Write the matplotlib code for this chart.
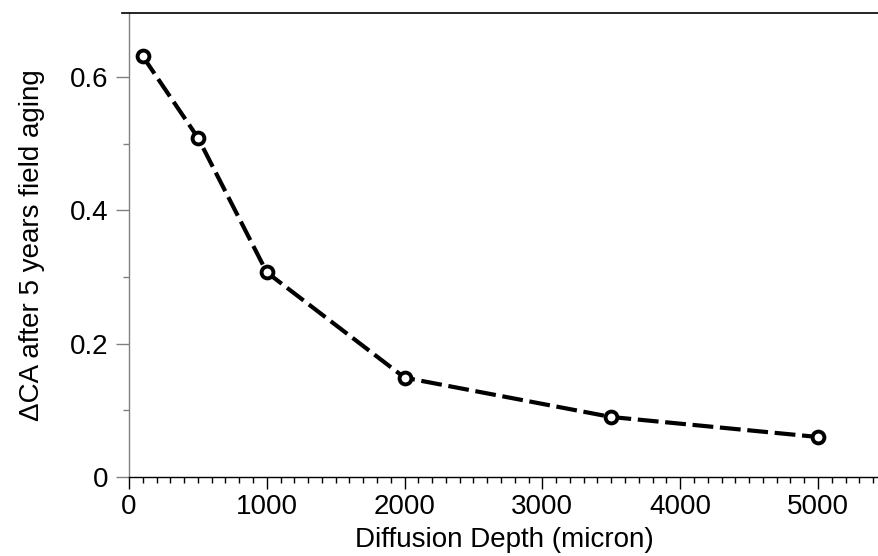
import matplotlib
matplotlib.use('Agg')
import matplotlib.pyplot as plt
from matplotlib.ticker import MultipleLocator
from matplotlib.lines import Line2D

depth = [100, 500, 1000, 2000, 3500, 5000]
delta_ca = [0.631, 0.509, 0.307, 0.149, 0.090, 0.060]
x_label = 'Diffusion Depth (micron)'
y_label = '\u0394CA after 5 years field aging'

plt.rcParams['font.family'] = ['Liberation Sans', 'DejaVu Sans']

fig = plt.figure(figsize=(8.79, 5.56), dpi=100)
ax = fig.add_axes([129 / 879, 79 / 556, 750 / 879, 464 / 556])

ax.plot(depth, delta_ca, color='black', lw=3.0, dashes=(5.0, 1.6),
        dash_capstyle='butt', marker='o', ms=8.5, mew=2.8,
        mfc='white', mec='black', zorder=3)

ax.set_xlim(0, 5443)
ax.set_ylim(0, 0.696)

ax.xaxis.set_major_locator(MultipleLocator(1000))
ax.xaxis.set_minor_locator(MultipleLocator(100))
ax.yaxis.set_major_locator(MultipleLocator(0.2))
ax.yaxis.set_minor_locator(MultipleLocator(0.1))
ax.yaxis.set_major_formatter(plt.FuncFormatter(lambda v, p: '0' if v == 0 else f'{v:.1f}'))

ax.spines['right'].set_visible(False)
ax.spines['top'].set_visible(False)
ax.spines['left'].set_color('#808080')
ax.spines['left'].set_linewidth(1.0)
ax.spines['bottom'].set_linewidth(1.0)

ax.tick_params(axis='x', which='major', length=8.6, width=1.0, pad=3.5, labelsize=20, color='black')
ax.tick_params(axis='x', which='minor', length=4.3, width=1.0, color='black')
ax.tick_params(axis='y', which='major', length=9.4, width=1.0, pad=5.5, labelsize=20, color='#808080')
ax.tick_params(axis='y', which='minor', length=4.3, width=1.0, color='#808080')

ax.set_xlabel(x_label, fontsize=20, labelpad=5)
ax.set_ylabel(y_label, fontsize=20, labelpad=18)

# top frame line, a bit wider than the plot area
fig.add_artist(Line2D([122 / 879, 1.0], [1 - 13 / 556, 1 - 13 / 556],
                      color='black', lw=1.2, transform=fig.transFigure))

fig.savefig('out.png', dpi=100)
